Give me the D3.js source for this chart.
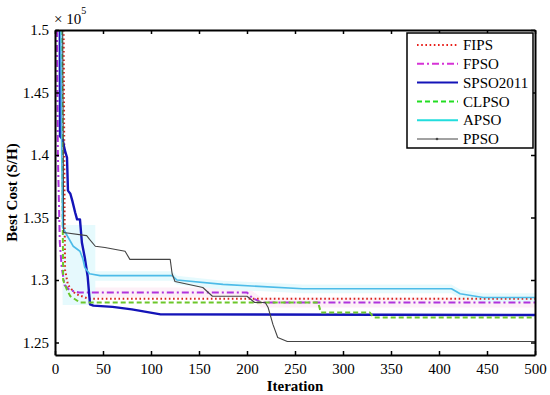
<!DOCTYPE html>
<html>
<head>
<meta charset="utf-8">
<script src="https://cdn.jsdelivr.net/npm/d3@7"></script>
<style>
  body { margin: 0; background: #fff; }
  svg text { font-family: "Liberation Serif", "DejaVu Serif", serif; fill: #000; }
</style>
</head>
<body>
<div id="chart"></div>
<script>
// data (cost values in S/H)
const xTicks = [0, 50, 100, 150, 200, 250, 300, 350, 400, 450, 500];
const yTicks = [125000, 130000, 135000, 140000, 145000, 150000];
const seriesNames = ['FIPS', 'FPSO', 'SPSO2011', 'CLPSO', 'APSO', 'PPSO'];

const fipsIter = [9, 10, 10.5, 13.5, 21, 35, 500];
const fipsCost = [150000, 135200, 130800, 129600, 128900, 128500, 128500];

const fpsoIter = [2, 3, 5, 7, 10, 15, 25, 200, 205, 215, 500];
const fpsoCost = [150000, 140000, 133000, 131000, 129600, 129200, 129000, 129000, 128600, 128200, 128200];

const spsoIter = [5, 5.2, 8, 10, 12.5, 13.5, 16, 18, 21, 23, 26, 28, 31, 34, 36.5, 40, 60, 80, 95, 110, 500];
const spsoCost = [150000, 141500, 141250, 140450, 139800, 137150, 136900, 136350, 135400, 134850, 134850, 133000, 131800, 130300, 128050, 127950, 127850, 127650, 127450, 127250, 127200];

const clpsoIter = [7, 8, 8.5, 12.5, 16, 26, 274, 277, 328, 332, 500];
const clpsoCost = [150000, 135400, 130000, 129200, 128700, 128200, 128200, 127400, 127400, 127000, 127000];

const apsoIter = [6, 7, 8, 13, 19, 26, 29, 31, 36, 47, 122, 127, 175, 258, 413, 422, 446, 500];
const apsoCost = [150000, 140000, 134200, 133500, 132700, 132300, 131700, 131000, 130500, 130350, 130350, 130000, 129650, 129300, 129300, 128900, 128600, 128600];

const ppsoIter = [8, 9, 33, 36, 42, 52, 73, 78, 120, 122, 125, 154, 164, 200, 208, 219, 222, 227, 232, 242, 500];
const ppsoCost = [150000, 133800, 133550, 133250, 132700, 132600, 132300, 131650, 131650, 130500, 129880, 129400, 128700, 128700, 128200, 128200, 127800, 126450, 125400, 125080, 125080];

// shaded spread bands
const apsoBandIter = [8, 42, 42, 122, 127, 175, 258, 413, 422, 446, 500];
const apsoBandHigh = [134400, 134400, 130700, 130700, 130350, 129950, 129650, 129650, 129250, 128950, 128950];
const apsoBandLow = [128000, 128000, 129950, 129950, 129650, 129250, 128950, 128950, 128550, 128250, 128250];

const fpsoBandIter = [8, 36, 36, 200, 215, 500];
const fpsoBandHigh = [132800, 132800, 129400, 129400, 128600, 128600];
const fpsoBandLow = [128400, 128400, 128600, 128600, 127800, 127800];

const width = 550, height = 395;
const margin = { top: 30, right: 15, bottom: 40, left: 55 };
const serif = '"Liberation Serif", "DejaVu Serif", serif';

const svg = d3.select('#chart')
  .append('svg')
  .attr('width', width)
  .attr('height', height);

const x = d3.scaleLinear()
  .domain([0, 500])
  .range([margin.left, width - margin.right]);

const y = d3.scaleLinear()
  .domain([124000, 150000])
  .range([height - margin.bottom, margin.top]);

const zip = (a, b) => a.map((v, i) => [v, b[i]]);

svg.append('clipPath').attr('id', 'clip')
  .append('rect')
  .attr('x', x(0)).attr('y', y(150000))
  .attr('width', x(500) - x(0)).attr('height', y(124000) - y(150000));

const plot = svg.append('g').attr('clip-path', 'url(#clip)');

const area = d3.area().x(d => x(d[0])).y0(d => y(d[1])).y1(d => y(d[2]));
const bandData = (it, lo, hi) => it.map((v, i) => [v, lo[i], hi[i]]);

plot.append('path')
  .attr('d', area(bandData(fpsoBandIter, fpsoBandLow, fpsoBandHigh)))
  .attr('fill', '#fdf0f7');
plot.append('path')
  .attr('d', area(bandData(apsoBandIter, apsoBandLow, apsoBandHigh)))
  .attr('fill', '#e3fafd')
  .attr('fill-opacity', 0.9);

const line = d3.line().x(d => x(d[0])).y(d => y(d[1]));

const styles = {
  FIPS: { color: '#d9261c', width: 2, dash: '1.6,2.6', data: zip(fipsIter, fipsCost) },
  FPSO: { color: '#b033dd', width: 2, dash: '7,3,2,3', data: zip(fpsoIter, fpsoCost) },
  SPSO2011: { color: '#1414b8', width: 2.4, dash: null, data: zip(spsoIter, spsoCost) },
  CLPSO: { color: '#6cc72a', width: 2, dash: '5,3', data: zip(clpsoIter, clpsoCost) },
  APSO: { color: '#4cbbe8', width: 1.6, dash: null, data: zip(apsoIter, apsoCost) },
  PPSO: { color: '#444', width: 1.1, dash: null, data: zip(ppsoIter, ppsoCost) }
};
const legendColors = {
  FIPS: '#e8201b', FPSO: '#d633d6', SPSO2011: '#1414b8',
  CLPSO: '#22dd22', APSO: '#22dddd', PPSO: '#444'
};

seriesNames.forEach(name => {
  const s = styles[name];
  plot.append('path')
    .attr('d', line(s.data))
    .attr('fill', 'none')
    .attr('stroke', s.color)
    .attr('stroke-width', s.width)
    .attr('stroke-dasharray', s.dash)
    .attr('stroke-linejoin', 'round');
});

// axes (ticks inside, mirrored on top and right)
const axisB = svg.append('g')
  .attr('transform', `translate(0,${y(124000)})`)
  .call(d3.axisBottom(x).tickValues(xTicks).tickSize(-4).tickPadding(8).tickSizeOuter(0));
const axisT = svg.append('g')
  .attr('transform', `translate(0,${y(150000)})`)
  .call(d3.axisTop(x).tickValues(xTicks).tickSize(-4).tickFormat('').tickSizeOuter(0));
const axisL = svg.append('g')
  .attr('transform', `translate(${x(0)},0)`)
  .call(d3.axisLeft(y).tickValues(yTicks).tickSize(-4).tickPadding(6).tickSizeOuter(0)
    .tickFormat(d => d3.format('')(d / 1e5)));
const axisR = svg.append('g')
  .attr('transform', `translate(${x(500)},0)`)
  .call(d3.axisRight(y).tickValues(yTicks).tickSize(-4).tickFormat('').tickSizeOuter(0));

[axisB, axisT, axisL, axisR].forEach(a => {
  a.attr('font-family', serif);
  a.select('.domain').attr('stroke', '#000').attr('stroke-width', 2);
  a.selectAll('.tick line').attr('stroke', '#000').attr('stroke-width', 1.5);
  a.selectAll('.tick text')
    .style('font-family', serif)
    .style('font-size', '15px');
});

// exponent label
const expo = svg.append('text')
  .attr('x', x(0) - 1)
  .attr('y', y(150000) - 6)
  .style('font-size', '15px');
expo.append('tspan').text('× 10');
expo.append('tspan').attr('dy', -10).style('font-size', '10px').text('5');

svg.append('text')
  .attr('x', (x(0) + x(500)) / 2)
  .attr('y', height - 4)
  .attr('text-anchor', 'middle')
  .style('font-size', '15px')
  .attr('font-weight', 'bold')
  .text('Iteration');

svg.append('text')
  .attr('transform', `translate(17,${(y(124000) + y(150000)) / 2}) rotate(-90)`)
  .attr('text-anchor', 'middle')
  .style('font-size', '15px')
  .attr('font-weight', 'bold')
  .text('Best Cost (S/H)');

// legend
const legend = svg.append('g').attr('transform', 'translate(407,33)');
legend.append('rect')
  .attr('width', 126).attr('height', 115)
  .attr('fill', '#fff')
  .attr('stroke', '#000')
  .attr('stroke-width', 1.5);

seriesNames.forEach((name, i) => {
  const s = styles[name];
  const g = legend.append('g').attr('transform', `translate(0,${12 + i * 18.8})`);
  g.append('line')
    .attr('x1', 10).attr('x2', 51)
    .attr('stroke', legendColors[name])
    .attr('stroke-width', name === 'PPSO' ? 1 : 2)
    .attr('stroke-dasharray', s.dash);
  if (name === 'PPSO') {
    g.append('circle').attr('cx', 30).attr('r', 1.3).attr('fill', '#444');
  }
  g.append('text')
    .attr('x', 56).attr('dy', '0.35em')
    .style('font-size', '15px')
    .text(name);
});
</script>
</body>
</html>
